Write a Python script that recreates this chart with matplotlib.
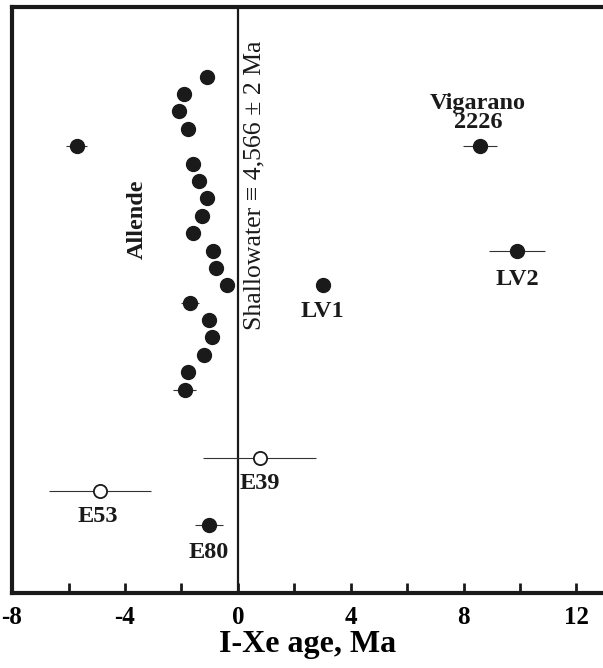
import matplotlib
matplotlib.use("Agg")
import matplotlib.pyplot as plt
from matplotlib.ticker import MultipleLocator

# Allende chondrules (filled), rank positions from top
allende_age = [-1.10, -1.91, -2.09, -1.77, -5.71, -1.60, -1.38, -1.10, -1.28, -1.60,
               -0.89, -0.78, -0.39, -1.70, -1.03, -0.92, -1.21, -1.77, -1.88]
allende_err = [0.2, 0.2, 0.2, 0.2, 0.38, 0.2, 0.2, 0.2, 0.2, 0.2,
               0.2, 0.2, 0.2, 0.32, 0.2, 0.2, 0.2, 0.2, 0.4]
allende_y = [29, 28, 27, 26, 25, 24, 23, 22, 21, 20, 19, 18, 17, 16, 15, 14, 13, 12, 11]

# Labelled samples
filled_names = ["Vigarano\n2226", "LV2", "LV1", "E80"]
filled_age = [8.58, 9.89, 3.01, -1.03]
filled_err = [0.6, 1.0, 0.0, 0.5]
filled_y = [25, 19, 17, 3.2]
filled_offsets = [(-2, 33), (0, -29), (0, -26), (0, -27)]

open_names = ["E39", "E53"]
open_age = [0.78, -4.89]
open_err = [2.0, 1.8]
open_y = [7.1, 5.15]
open_offsets = [(0, -26), (-2, -25)]

xticks = [-8, -4, 0, 4, 8, 12]

plt.rcParams['font.family'] = ['Liberation Serif', 'DejaVu Serif']

fig = plt.figure(figsize=(6.03, 6.68), dpi=100)
ax = fig.add_axes([0.02, 0.112, 0.98, 0.8775])

ebkw = dict(fmt='none', ecolor='#333333', elinewidth=0.8, capsize=0, zorder=2)
ax.errorbar(allende_age, allende_y, xerr=allende_err, **ebkw)
ax.errorbar(filled_age, filled_y, xerr=filled_err, **ebkw)
ax.errorbar(open_age, open_y, xerr=open_err, **ebkw)

ax.plot(allende_age, allende_y, 'o', color='#1a1a1a', markersize=10, zorder=3)
ax.plot(filled_age, filled_y, 'o', color='#1a1a1a', markersize=10, zorder=3)
ax.plot(open_age, open_y, 'o', markerfacecolor='white', markeredgecolor='#1a1a1a',
        markeredgewidth=1.3, markersize=9.5, zorder=3)

for name, x, y, off in zip(filled_names, filled_age, filled_y, filled_offsets):
    ax.annotate(name, (x, y), xytext=off, textcoords='offset pixels',
                ha='center', va='center', fontsize=17.5, fontweight='bold',
                linespacing=0.85, color='#1a1a1a')
for name, x, y, off in zip(open_names, open_age, open_y, open_offsets):
    ax.annotate(name, (x, y), xytext=off, textcoords='offset pixels',
                ha='center', va='center', fontsize=17.5, fontweight='bold',
                color='#1a1a1a')

ax.axvline(0, color='#1a1a1a', linewidth=1.6, zorder=1)

ax.text(0.2, 22.75, "Shallowater \u2261 4,566 \u00b1 2 Ma",
        rotation=90, ha='left', va='center', fontsize=18.5, color='#1a1a1a')
ax.text(-3.55, 20.8, "Allende", rotation=90, ha='center', va='center',
        fontsize=17.5, fontweight='bold', color='#1a1a1a')

ax.set_xlim(-8, 12.94)
ax.set_ylim(-0.7, 33.0)
ax.set_xticks(xticks)
ax.set_xticklabels([str(t) for t in xticks])
ax.xaxis.set_minor_locator(MultipleLocator(2))
ax.set_yticks([])
ax.tick_params(axis='x', which='both', direction='in', length=7, width=2,
               labelsize=18, pad=9, color='#1a1a1a')
for lbl in ax.get_xticklabels():
    lbl.set_fontweight('bold')
ax.set_xlabel("I-Xe age, Ma", fontsize=23, fontweight='bold', labelpad=1)

for s in ['left', 'bottom', 'top']:
    ax.spines[s].set_linewidth(3)
    ax.spines[s].set_color('#1a1a1a')
ax.spines['right'].set_visible(False)

fig.savefig("out.png", dpi=100)
